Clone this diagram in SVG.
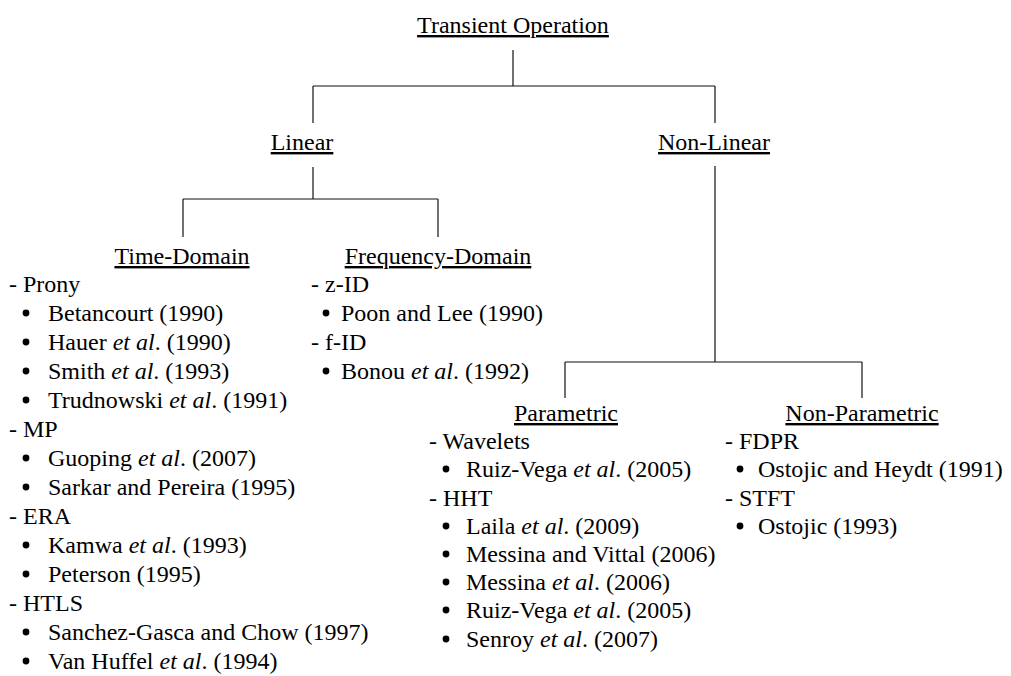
<svg xmlns="http://www.w3.org/2000/svg" width="1011" height="676" viewBox="0 0 1011 676">
<style>
text{font-family:"Liberation Serif","Times New Roman",serif;font-size:24px;fill:#000}
.h{text-anchor:middle;text-decoration:underline}
.i{font-style:italic}
.bul circle{fill:#000}
.c line{stroke:#111;stroke-width:1.2;fill:none}
</style>
<defs><circle id="dot" r="3.4"/></defs>
<rect width="1011" height="676" fill="#fff"/>
<g class="c" id="connectors">
<line x1="513" y1="50" x2="513" y2="86"/>
<line x1="313" y1="86" x2="715" y2="86"/>
<line x1="313" y1="86" x2="313" y2="123"/>
<line x1="715" y1="86" x2="715" y2="123"/>
<line x1="313" y1="167" x2="313" y2="199"/>
<line x1="183" y1="199" x2="438" y2="199"/>
<line x1="183" y1="199" x2="183" y2="237"/>
<line x1="438" y1="199" x2="438" y2="237"/>
<line x1="715" y1="166" x2="715" y2="362"/>
<line x1="565" y1="362" x2="862" y2="362"/>
<line x1="565" y1="362" x2="565" y2="398"/>
<line x1="862" y1="362" x2="862" y2="398"/>
</g>
<g id="transient"><text class="h" x="513" y="33">Transient Operation</text></g>
<g id="linear"><text class="h" x="302" y="150">Linear</text></g>
<g id="nonlinear"><text class="h" x="714" y="150">Non-Linear</text></g>
<g id="time-domain">
<text class="h" x="182" y="264">Time-Domain</text>
<text x="9" y="292">- Prony</text>
<text x="48" y="321">Betancourt (1990)</text>
<text x="48" y="350">Hauer <tspan class="i">et al</tspan>. (1990)</text>
<text x="48" y="379">Smith <tspan class="i">et al</tspan>. (1993)</text>
<text x="48" y="408">Trudnowski <tspan class="i">et al</tspan>. (1991)</text>
<text x="9" y="437">- MP</text>
<text x="48" y="466">Guoping <tspan class="i">et al</tspan>. (2007)</text>
<text x="48" y="495">Sarkar and Pereira (1995)</text>
<text x="9" y="524">- ERA</text>
<text x="48" y="553">Kamwa <tspan class="i">et al</tspan>. (1993)</text>
<text x="48" y="582">Peterson (1995)</text>
<text x="9" y="611">- HTLS</text>
<text x="48" y="640">Sanchez-Gasca and Chow (1997)</text>
<text x="48" y="669">Van Huffel <tspan class="i">et al</tspan>. (1994)</text>
<g class="bul">
<use href="#dot" x="26" y="313"/><use href="#dot" x="26" y="342"/><use href="#dot" x="26" y="371"/><use href="#dot" x="26" y="400"/>
<use href="#dot" x="26" y="458"/><use href="#dot" x="26" y="487"/>
<use href="#dot" x="26" y="545"/><use href="#dot" x="26" y="574"/>
<use href="#dot" x="26" y="632"/><use href="#dot" x="26" y="661"/>
</g>
</g>
<g id="frequency-domain">
<text class="h" x="438" y="264">Frequency-Domain</text>
<text x="311" y="292">- z-ID</text>
<text x="341" y="321">Poon and Lee (1990)</text>
<text x="311" y="350">- f-ID</text>
<text x="341" y="379">Bonou <tspan class="i">et al</tspan>. (1992)</text>
<g class="bul"><use href="#dot" x="326" y="313"/><use href="#dot" x="326" y="371"/></g>
</g>
<g id="parametric">
<text class="h" x="566" y="421">Parametric</text>
<text x="429" y="449">- Wavelets</text>
<text x="466" y="477">Ruiz-Vega <tspan class="i">et al</tspan>. (2005)</text>
<text x="429" y="506">- HHT</text>
<text x="466" y="534">Laila <tspan class="i">et al</tspan>. (2009)</text>
<text x="466" y="562">Messina and Vittal (2006)</text>
<text x="466" y="590">Messina <tspan class="i">et al</tspan>. (2006)</text>
<text x="466" y="618">Ruiz-Vega <tspan class="i">et al</tspan>. (2005)</text>
<text x="466" y="647">Senroy <tspan class="i">et al</tspan>. (2007)</text>
<g class="bul">
<use href="#dot" x="446" y="469"/><use href="#dot" x="446" y="526"/><use href="#dot" x="446" y="554"/>
<use href="#dot" x="446" y="582"/><use href="#dot" x="446" y="610"/><use href="#dot" x="446" y="639"/>
</g>
</g>
<g id="non-parametric">
<text class="h" x="862" y="421">Non-Parametric</text>
<text x="725" y="449">- FDPR</text>
<text x="758" y="477">Ostojic and Heydt (1991)</text>
<text x="725" y="506">- STFT</text>
<text x="758" y="534">Ostojic (1993)</text>
<g class="bul"><use href="#dot" x="740" y="469"/><use href="#dot" x="740" y="526"/></g>
</g>
</svg>
